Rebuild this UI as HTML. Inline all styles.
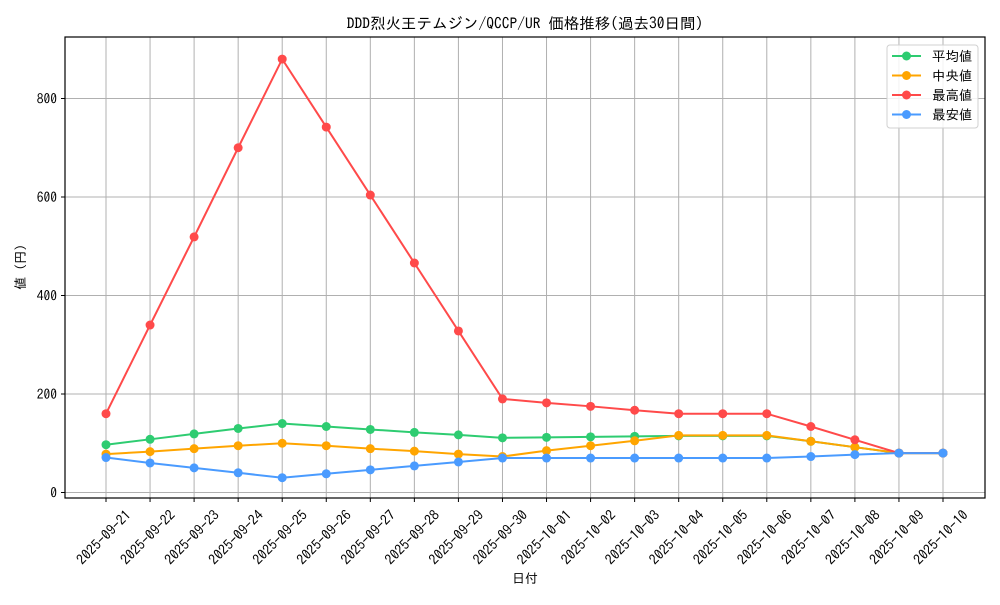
<!DOCTYPE html>
<html><head><meta charset="utf-8"><style>
body{margin:0;background:#fff}
svg text{font-family:"IPAGothic","Liberation Sans","Noto Sans CJK JP",sans-serif;fill:#000}
</style></head><body>
<svg id="c" width="1000" height="600" xmlns="http://www.w3.org/2000/svg"></svg>
<script>
const dates=["2025-09-21","2025-09-22","2025-09-23","2025-09-24","2025-09-25","2025-09-26","2025-09-27","2025-09-28","2025-09-29","2025-09-30","2025-10-01","2025-10-02","2025-10-03","2025-10-04","2025-10-05","2025-10-06","2025-10-07","2025-10-08","2025-10-09","2025-10-10"];
const avgVals=[97,108,119,130,140,134,128,122,117,111,112,113,114,115,115,115,104,92,80,80];
const medVals=[78,83,89,95,100,95,89,84,78,73,85,95,105,116,116,116,104,92,80,80];
const maxVals=[160,340,519,700,880,742,604,466,328,190,182,175,167,160,160,160,134,107,80,80];
const minVals=[71,60,50,40,30,38,46,54,62,70,70,70,70,70,70,70,73,77,80,80];
const yTicks=[0,200,400,600,800];
const series=[["平均値",avgVals,"#2ecc71","avg"],["中央値",medVals,"#ffa500","median"],["最高値",maxVals,"#ff4a4a","max"],["最安値",minVals,"#4a9bff","min"]];
const L=65,R=985,T=37,B=498;
const x=i=>106+i*(943-106)/(dates.length-1);
const y=v=>492.5-v*0.4925;
const svg=document.getElementById('c');const NS="http://www.w3.org/2000/svg";
function mk(t,a,p){const e=document.createElementNS(NS,t);for(const k in a)e.setAttribute(k,a[k]);(p||svg).appendChild(e);return e;}
const g=mk('g',{});


dates.forEach((d,i)=>{mk('line',{x1:x(i),x2:x(i),y1:T,y2:B,stroke:'#b0b0b0','stroke-width':1},g);});
yTicks.forEach(v=>{mk('line',{x1:L,x2:R,y1:y(v),y2:y(v),stroke:'#b0b0b0','stroke-width':1},g);});
series.forEach(s=>{
 const sg=mk('g',{});
 
 
 mk('polyline',{points:s[1].map((v,i)=>x(i)+','+y(v)).join(' '),fill:'none',stroke:s[2],'stroke-width':2},sg);
 s[1].forEach((v,i)=>{const c=mk('circle',{cx:x(i),cy:y(v),r:4.5,fill:s[2]},sg);
  
  });
});
const box=mk('rect',{x:L,y:T,width:R-L,height:B-T,fill:'none',stroke:'#000','stroke-width':1.2});


yTicks.forEach(v=>{mk('line',{x1:L-4,x2:L,y1:y(v),y2:y(v),stroke:'#000'});
 const t=mk('text',{x:L-8,y:y(v)+5,'text-anchor':'end','font-size':13.5});t.textContent=v;
 
 });
dates.forEach((d,i)=>{mk('line',{x1:x(i),x2:x(i),y1:B,y2:B+4,stroke:'#000'});
 const px=x(i)+26,py=B+18;
 const t=mk('text',{x:px,y:py,'text-anchor':'end','font-size':14,transform:`rotate(-45 ${px} ${py})`});t.textContent=d;
 
 });
let t=mk('text',{x:525,y:29,'text-anchor':'middle','font-size':15.5});t.textContent="DDD烈火王テムジン/QCCP/UR 価格推移(過去30日間)";


t=mk('text',{x:525,y:583,'text-anchor':'middle','font-size':13});t.textContent="日付";


t=mk('text',{x:25,y:267,'text-anchor':'middle','font-size':13,transform:'rotate(-90 25 267)'});t.textContent="値 (円)";


const lg=mk('g',{});


mk('rect',{x:887,y:45,width:91,height:83,rx:3,fill:'#fff','fill-opacity':0.85,stroke:'#d0d0d0'},lg);
series.forEach((s,i)=>{const yy=56+i*19.5;
 const eg=mk('g',{},lg);
 
 
 mk('line',{x1:892,x2:921,y1:yy,y2:yy,stroke:s[2],'stroke-width':2},eg);
 mk('circle',{cx:906.5,cy:yy,r:4.5,fill:s[2]},eg);
 const tt=mk('text',{x:932,y:yy+5,'font-size':13.5},eg);tt.textContent=s[0];});
</script>
</body></html>
